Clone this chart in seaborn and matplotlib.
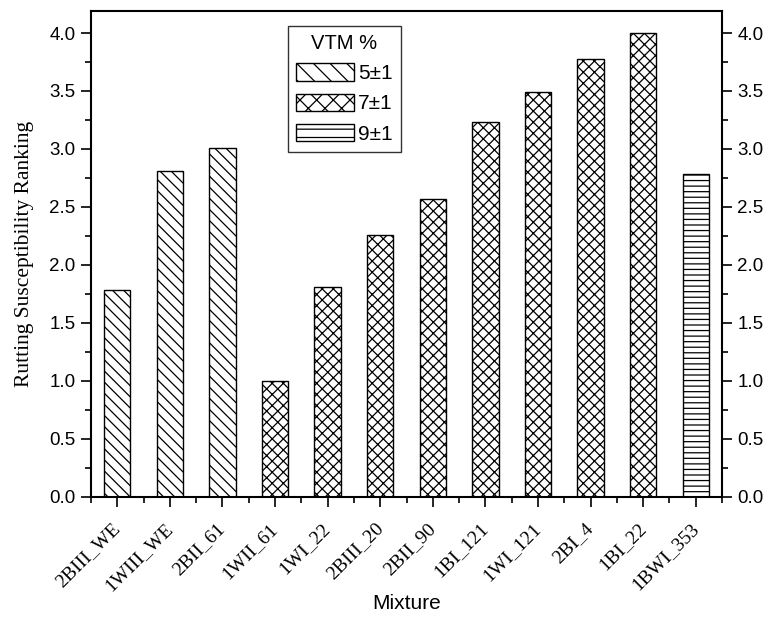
import matplotlib
matplotlib.use("Agg")
import matplotlib.pyplot as plt
import seaborn as sns
import pandas as pd
from matplotlib.ticker import MultipleLocator, FixedLocator, FormatStrFormatter
from matplotlib.patches import Patch

mixtures = ["2BIII_WE", "1WIII_WE", "2BII_61", "1WII_61", "1WI_22", "2BIII_20",
            "2BII_90", "1BI_121", "1WI_121", "2BI_4", "1BI_22", "1BWI_353"]
ranking = [1.78, 2.81, 3.01, 1.00, 1.81, 2.26, 2.57, 3.23, 3.49, 3.78, 4.00, 2.78]
vtm_group = ["5±1", "5±1", "5±1", "7±1", "7±1", "7±1", "7±1", "7±1", "7±1",
             "7±1", "7±1", "9±1"]
groups = ["5±1", "7±1", "9±1"]
bar_hatches = {"5±1": "\\\\\\", "7±1": "xxx", "9±1": "---"}
legend_hatches = {"5±1": "\\\\", "7±1": "xx", "9±1": "--"}

df = pd.DataFrame({"Mixture": mixtures, "Ranking": ranking, "VTM": vtm_group})

sns.set_style("ticks")
plt.rcParams["font.family"] = ["Liberation Sans", "DejaVu Sans"]
plt.rcParams["hatch.linewidth"] = 0.9
plt.rcParams["hatch.color"] = "black"
plt.rcParams["text.color"] = "black"
plt.rcParams["axes.labelcolor"] = "black"
plt.rcParams["xtick.color"] = "black"
plt.rcParams["ytick.color"] = "black"

fig = plt.figure(figsize=(7.74, 6.29), dpi=100)
ax = fig.add_axes([0.1176, 0.2103, 0.8152, 0.7722])

sns.barplot(data=df, x="Mixture", y="Ranking", hue="VTM", hue_order=groups,
            dodge=False, width=0.5, palette=["white"] * 3, edgecolor="black",
            linewidth=1.0, saturation=1, legend=False, ax=ax)

for cont, g in zip(ax.containers, groups):
    for bar in cont:
        bar.set_hatch(bar_hatches[g])

ax.set_xlim(-0.5, 11.5)
ax.set_ylim(0, 4.19)

ax.yaxis.set_major_locator(MultipleLocator(0.5))
ax.yaxis.set_minor_locator(MultipleLocator(0.25))
ax.xaxis.set_minor_locator(FixedLocator([i - 0.5 for i in range(13)]))
ax.yaxis.set_major_formatter(FormatStrFormatter("%.1f"))

ax.tick_params(axis="y", which="both", direction="out", left=True, right=True,
               labelleft=True, labelright=True, labelsize=13.5, width=1.2,
               colors="black")
ax.tick_params(axis="y", which="major", pad=4)
ax.tick_params(axis="x", which="both", direction="out", bottom=True, top=False,
               width=1.2, colors="black")
ax.tick_params(which="major", length=7)
ax.tick_params(which="minor", length=4.5)

for s in ax.spines.values():
    s.set_linewidth(1.5)
    s.set_visible(True)
    s.set_color("black")

ax.set_xticks(range(len(mixtures)))
ax.set_xticklabels(mixtures, rotation=45, ha="right", va="center",
                   rotation_mode="anchor", family=["Liberation Serif"],
                   fontsize=14)
ax.tick_params(axis="x", which="major", pad=14)

ax.set_xlabel("Mixture", fontsize=15, labelpad=0)
ax.set_ylabel("Rutting Susceptibility Ranking", family=["Liberation Serif"],
              fontsize=15.5, labelpad=11)

handles = [Patch(facecolor="white", edgecolor="black", hatch=legend_hatches[g],
                 linewidth=1.0) for g in groups]
leg = ax.legend(handles, groups, title="VTM %", loc="upper left",
                bbox_to_anchor=(0.312, 0.97), borderaxespad=0, fontsize=15,
                title_fontsize=14.5, handlelength=2.75, handleheight=0.9,
                frameon=True, fancybox=False, edgecolor="black",
                labelspacing=0.5, handletextpad=0.2, borderpad=0.4)
leg.get_frame().set_linewidth(1.0)

fig.savefig("out.png", dpi=100)
